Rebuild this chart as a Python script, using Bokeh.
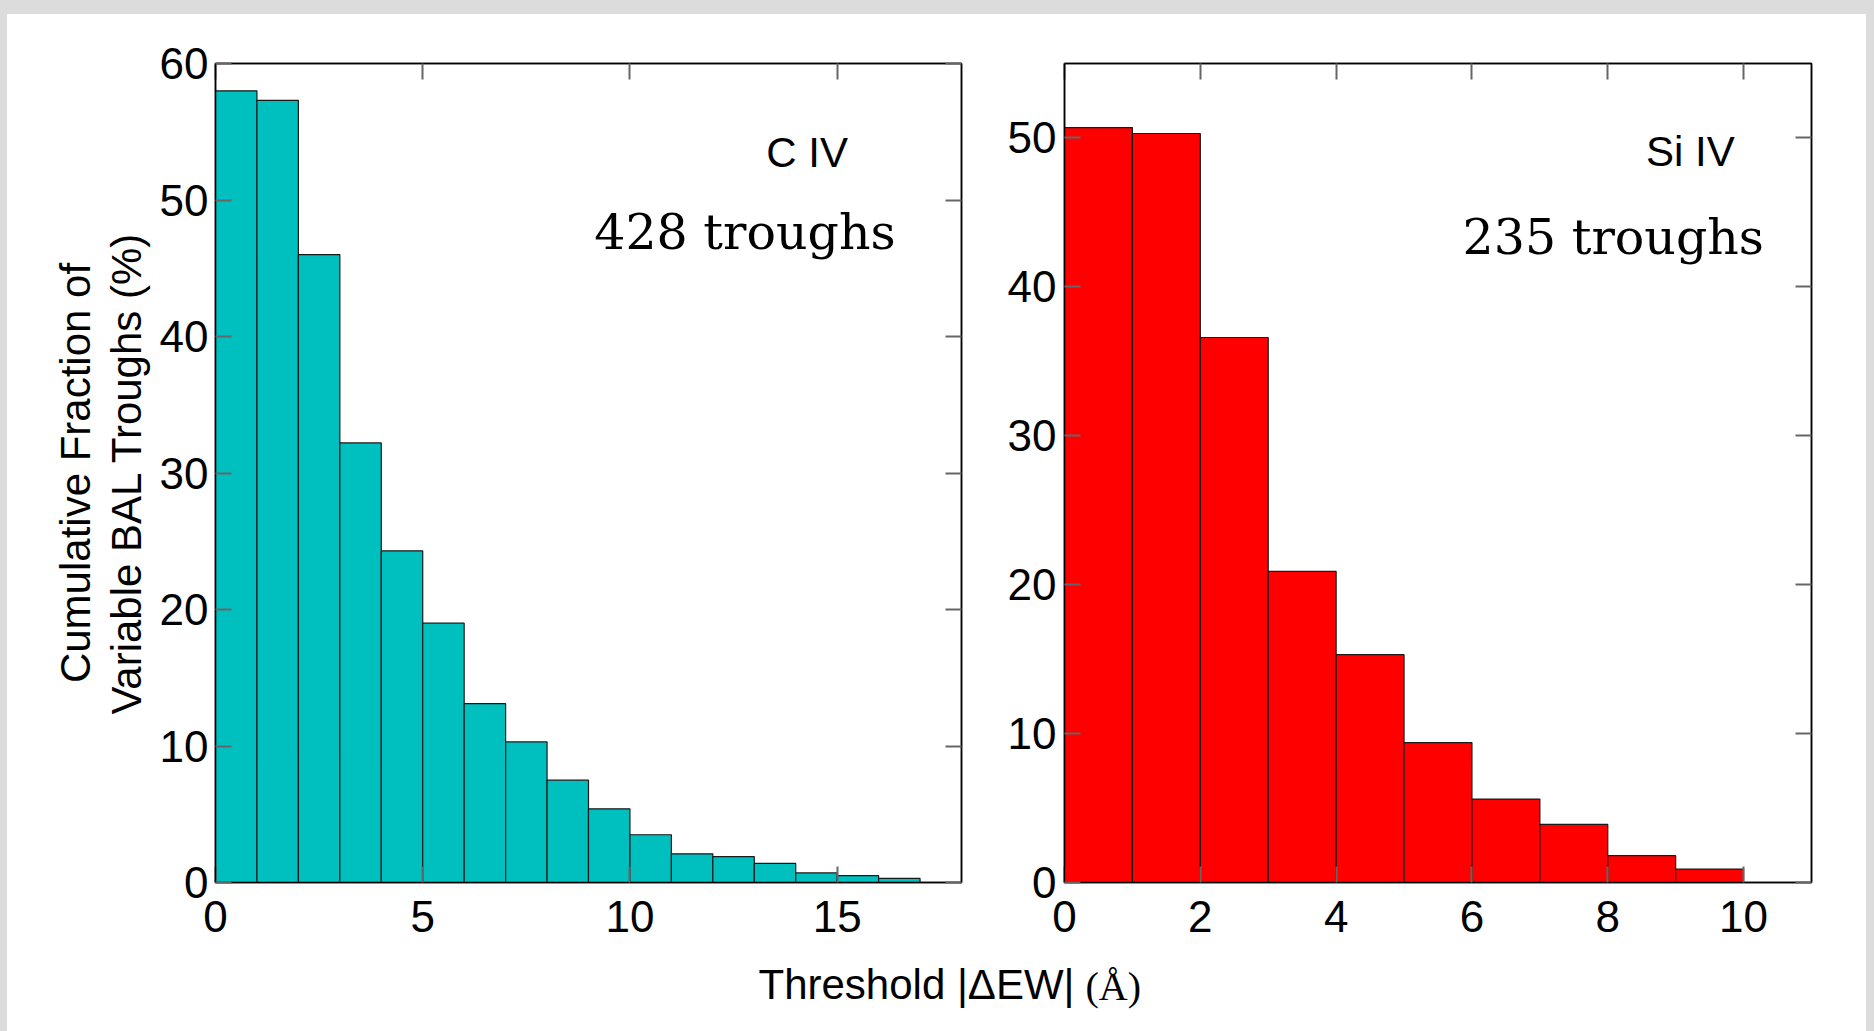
from bokeh.plotting import figure
from bokeh.models import Range1d, LinearAxis, Label, CustomJSTickFormatter, FixedTicker
from bokeh.layouts import row, column
from bokeh.embed import file_html
from bokeh.resources import INLINE

# ---------------- data ----------------
civ_bin_left = [0, 1, 2, 3, 4, 5, 6, 7, 8, 9, 10, 11, 12, 13, 14, 15, 16]
civ_bin_right = [1, 2, 3, 4, 5, 6, 7, 8, 9, 10, 11, 12, 13, 14, 15, 16, 17]
civ_percent = [58.0, 57.3, 46.0, 32.2, 24.3, 19.0, 13.1, 10.3, 7.5, 5.4, 3.5, 2.1, 1.9, 1.4, 0.7, 0.5, 0.3]

siiv_bin_left = [0, 1, 2, 3, 4, 5, 6, 7, 8, 9]
siiv_bin_right = [1, 2, 3, 4, 5, 6, 7, 8, 9, 10]
siiv_percent = [50.7, 50.3, 36.6, 20.9, 15.3, 9.4, 5.6, 3.9, 1.8, 0.9]

civ_xticks = [0, 5, 10, 15]
civ_yticks = [0, 10, 20, 30, 40, 50, 60]
siiv_xticks = [0, 2, 4, 6, 8, 10]
siiv_yticks = [0, 10, 20, 30, 40, 50]

civ_label = "C IV"
civ_count = "428 troughs"
siiv_label = "Si IV"
siiv_count = "235 troughs"
y_title = "Cumulative Fraction of\nVariable BAL Troughs (%)"
x_title = "Threshold |ΔEW|"
x_unit = "(Å)"

SANS = "Liberation Sans"
SERIF = "DejaVu Serif"
TICK_PX = "44px"


def style_axis(ax, ticks, show_labels=True):
    ax.ticker = FixedTicker(ticks=ticks)
    ax.axis_line_color = "black"
    ax.axis_line_width = 1.5
    ax.major_tick_in = 16
    ax.major_tick_out = 0
    ax.major_tick_line_color = "#666666"
    ax.major_tick_line_width = 2
    ax.minor_tick_line_color = None
    ax.major_label_text_font = SANS
    ax.major_label_text_font_size = TICK_PX
    ax.major_label_text_color = "black"
    ax.axis_label_text_font = SANS
    ax.axis_label_text_font_style = "normal"
    ax.axis_label_text_font_size = "42px"
    ax.axis_label_text_color = "black"
    ax.axis_label_text_line_height = 1.07
    if not show_labels:
        ax.formatter = CustomJSTickFormatter(code="return ''")
        ax.major_label_standoff = 0


def make_panel(left, right, top, color, xr, yr, xticks, yticks,
               bl, br, frame_w, ystandoff, ylabel=None):
    p = figure(frame_width=frame_w, frame_height=819,
               x_range=Range1d(*xr), y_range=Range1d(*yr),
               output_backend="svg", toolbar_location=None,
               min_border_left=bl, min_border_right=br,
               min_border_top=49, min_border_bottom=60)
    p.grid.visible = False
    p.outline_line_color = "black"
    p.outline_line_width = 1.5
    p.background_fill_color = "white"
    p.border_fill_color = "white"
    p.quad(left=left, right=right, bottom=0, top=top,
           fill_color=color, line_color="#1a1a1a", line_width=1.2)
    style_axis(p.xaxis[0], xticks)
    style_axis(p.yaxis[0], yticks)
    p.xaxis[0].major_label_standoff = 18
    p.yaxis[0].major_label_standoff = ystandoff
    if ylabel:
        p.yaxis[0].axis_label = ylabel
        p.yaxis[0].axis_label_standoff = 7
    top_ax = LinearAxis()
    style_axis(top_ax, xticks, show_labels=False)
    p.add_layout(top_ax, "above")
    right_ax = LinearAxis()
    style_axis(right_ax, yticks, show_labels=False)
    p.add_layout(right_ax, "right")
    return p


f1 = make_panel(civ_bin_left, civ_bin_right, civ_percent, "#00BFBF",
                (0, 18), (0, 60), civ_xticks, civ_yticks,
                208, 30, 746, 7, ylabel=y_title)
f1.add_layout(Label(x=15.26, y=53.5, text=civ_label, text_align="right",
                    text_baseline="alphabetic", text_font=SANS,
                    text_font_size="42px", text_color="black"))
f1.add_layout(Label(x=16.41, y=47.6, text=civ_count, text_align="right",
                    text_baseline="alphabetic", text_font=SERIF,
                    text_font_size="49px", text_color="black"))

f2 = make_panel(siiv_bin_left, siiv_bin_right, siiv_percent, "#FF0000",
                (0, 11), (0, 55), siiv_xticks, siiv_yticks,
                73, 55, 747, 8)
f2.add_layout(Label(x=9.87, y=49.1, text=siiv_label, text_align="right",
                    text_baseline="alphabetic", text_font=SANS,
                    text_font_size="42px", text_color="black"))
f2.add_layout(Label(x=10.3, y=43.3, text=siiv_count, text_align="right",
                    text_baseline="alphabetic", text_font=SERIF,
                    text_font_size="49px", text_color="black"))

f3 = figure(width=1859, height=89, x_range=Range1d(0, 1859), y_range=Range1d(0, 89),
            output_backend="svg", toolbar_location=None,
            x_axis_location=None, y_axis_location=None, min_border=0)
f3.grid.visible = False
f3.outline_line_color = None
f3.border_fill_color = "white"
f3.background_fill_color = "white"
f3.add_layout(Label(x=751, y=47, text=x_title, text_align="left",
                    text_baseline="alphabetic", text_font=SANS,
                    text_font_size="42px", text_color="black"))
f3.add_layout(Label(x=1078, y=45, text=x_unit, text_align="left",
                    text_baseline="alphabetic", text_font="Liberation Serif",
                    text_font_size="40px", text_color="black"))

layout = column(row(f1, f2, styles={"background-color": "white"}), f3,
                styles={"background-color": "white"})

html = file_html(layout, INLINE)
html = html.replace(
    "</head>",
    "<style>html { background: #dcdcdc; } body { background: #dcdcdc; padding: 14px 8px 0 7px; }</style></head>",
    1)
open("out.html", "w").write(html)
